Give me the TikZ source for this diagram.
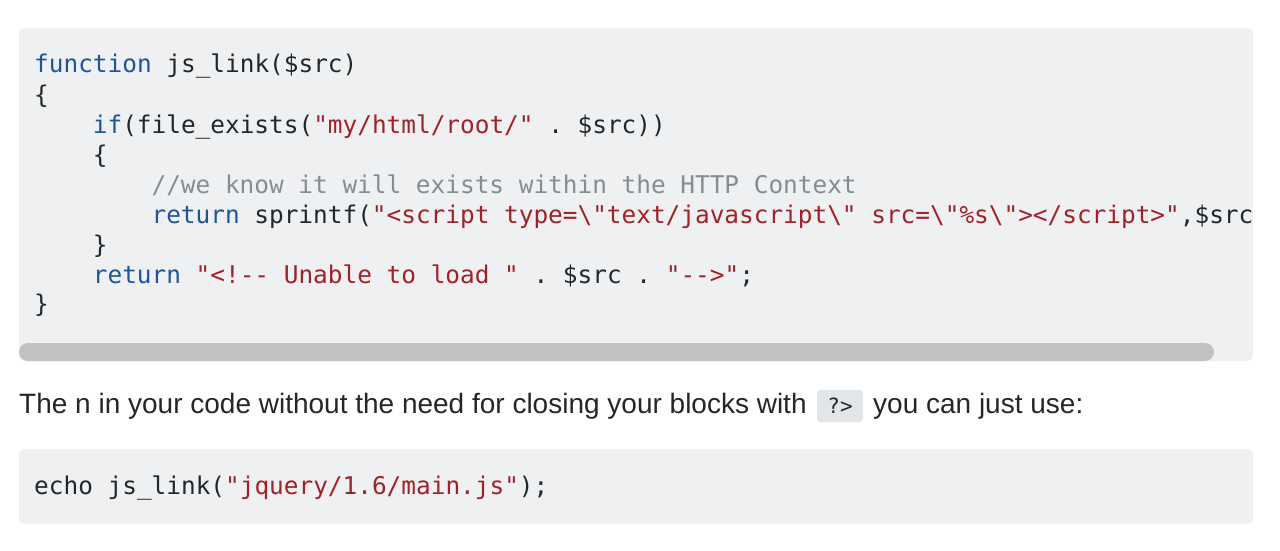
\documentclass[tikz,border=0pt]{standalone}
\usepackage{fontspec}
\setmainfont{Liberation Sans}
\setmonofont{DejaVu Sans Mono}
\definecolor{kw}{RGB}{29,86,152}
\definecolor{str}{RGB}{160,34,40}
\definecolor{cmt}{RGB}{133,140,147}
\definecolor{txt}{RGB}{36,39,41}
\definecolor{codebg}{RGB}{239,240,241}
\definecolor{inlinebg}{RGB}{227,230,232}
\definecolor{scroll}{RGB}{193,193,193}
\newcommand\us{\char"5F\relax}
\tikzset{
  codeline/.style={anchor=base west, inner sep=0pt, text=txt, font=\ttfamily\fontsize{24.4}{30}\selectfont},
  prose/.style={anchor=base west, inner sep=0pt, text=txt, font=\fontsize{28}{34}\selectfont},
  codeblock/.style={fill=codebg, draw=none, rounded corners=5pt},
  inlinecode/.style={fill=inlinebg, rounded corners=3pt, inner sep=0pt, minimum width=46pt, minimum height=32pt, text=txt, font=\ttfamily\fontsize{21}{26}\selectfont},
}
\begin{document}
\begin{tikzpicture}[x=1pt,y=-1pt]
\useasboundingbox[fill=white] (0,0) rectangle (1280,551);
% first code block
\fill[codeblock] (19,28) rectangle (1253,361);
\fill[scroll, rounded corners=9pt] (19,343) rectangle (1214,361);
\node[codeline] (l1) at (34,73) {\textcolor{kw}{function} js\us link(\$src)};
\node[codeline] (l2) at (34,103) {\{};
\node[codeline] (l3) at (92.7,133) {\textcolor{kw}{if}(file\us exists(\textcolor{str}{"my/html/root/"} . \$src))};
\node[codeline] (l4) at (92.7,163) {\{};
\node[codeline] (l5) at (151.4,193) {\textcolor{cmt}{//we know it will exists within the HTTP Context}};
\node[codeline] (l6) at (151.4,223) {\textcolor{kw}{return} sprintf(\textcolor{str}{"<script type=\textbackslash"text/javascript\textbackslash" src=\textbackslash"\%s\textbackslash"></script>"},\$src};
\node[codeline] (l7) at (92.7,253) {\}};
\node[codeline] (l8) at (92.7,283) {\textcolor{kw}{return} \textcolor{str}{"<!-- Unable to load "} . \$src . \textcolor{str}{"-->"};};
\node[codeline] (l9) at (34,312) {\}};
% prose line
\node[prose] (p1) at (19,413.5) {The n in your code without the need for closing your blocks with};
\node[inlinecode] (ic) at (840,406) {?>};
\node[prose] (p2) at (873,413.5) {you can just use:};
% second code block
\fill[codeblock] (19,449) rectangle (1253,524);
\node[codeline] (e1) at (34,494) {echo js\us link(\textcolor{str}{"jquery/1.6/main.js"});};
\end{tikzpicture}
\end{document}
